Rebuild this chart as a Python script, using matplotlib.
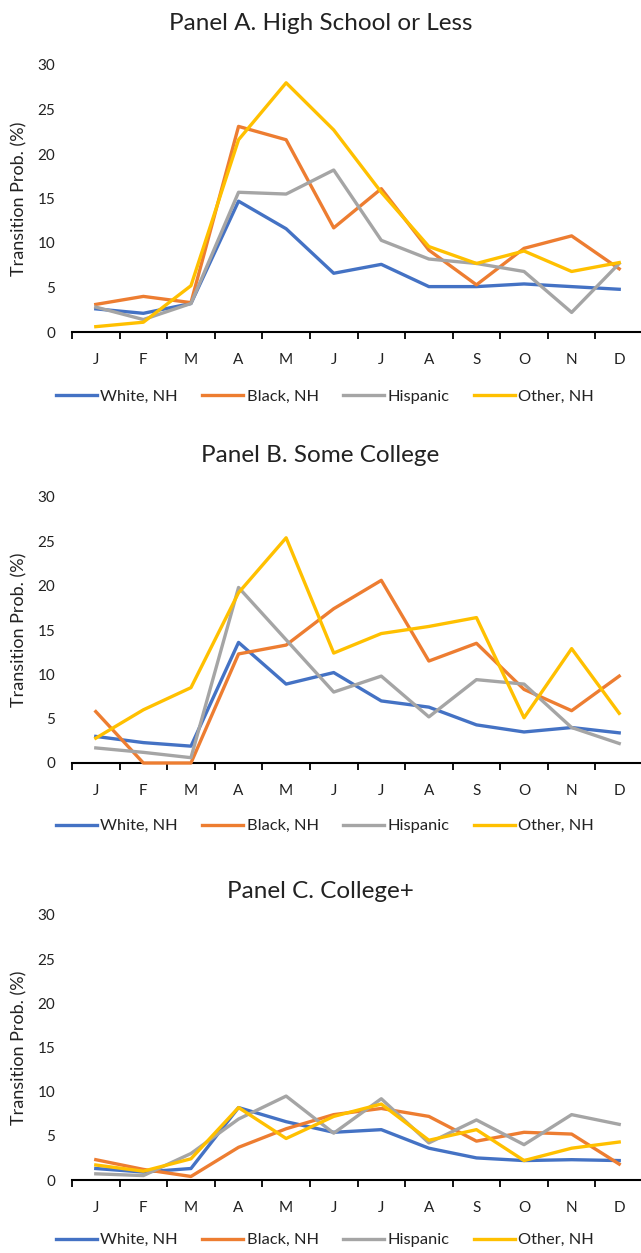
import numpy as np
import matplotlib
matplotlib.use("Agg")
import matplotlib.pyplot as plt

plt.rcParams['font.family'] = ['Lato', 'DejaVu Sans']

months = ["J", "F", "M", "A", "M", "J", "J", "A", "S", "O", "N", "D"]
series_names = ["White, NH", "Black, NH", "Hispanic", "Other, NH"]
colors = ["#4472C4", "#ED7D31", "#A5A5A5", "#FFC000"]

# Panel A. High School or Less
hs_white = [2.6, 2.1, 3.2, 14.7, 11.6, 6.6, 7.6, 5.1, 5.1, 5.4, 5.1, 4.8]
hs_black = [3.1, 4.0, 3.3, 23.1, 21.6, 11.7, 16.1, 9.2, 5.3, 9.4, 10.8, 7.1]
hs_hisp = [2.8, 1.4, 3.2, 15.7, 15.5, 18.2, 10.3, 8.2, 7.7, 6.8, 2.2, 7.7]
hs_other = [0.6, 1.1, 5.2, 21.6, 28.0, 22.7, 15.7, 9.6, 7.7, 9.1, 6.8, 7.8]

# Panel B. Some College
sc_white = [3.0, 2.3, 1.9, 13.6, 8.9, 10.2, 7.0, 6.3, 4.3, 3.5, 4.0, 3.4]
sc_black = [5.8, 0.0, 0.0, 12.3, 13.3, 17.4, 20.6, 11.5, 13.5, 8.3, 5.9, 9.8]
sc_hisp = [1.7, 1.2, 0.6, 19.8, 13.9, 8.0, 9.8, 5.2, 9.4, 8.9, 4.0, 2.2]
sc_other = [2.8, 6.0, 8.5, 19.2, 25.4, 12.4, 14.6, 15.4, 16.4, 5.1, 12.9, 5.6]

# Panel C. College+
co_white = [1.3, 0.9, 1.3, 8.2, 6.6, 5.4, 5.7, 3.6, 2.5, 2.2, 2.3, 2.2]
co_black = [2.3, 1.2, 0.4, 3.7, 5.8, 7.4, 8.1, 7.2, 4.4, 5.4, 5.2, 1.8]
co_hisp = [0.7, 0.5, 3.0, 6.9, 9.5, 5.3, 9.2, 4.2, 6.8, 4.0, 7.4, 6.3]
co_other = [1.7, 1.0, 2.4, 8.2, 4.7, 7.2, 8.6, 4.5, 5.7, 2.2, 3.6, 4.3]

panels = [
    ("Panel A. High School or Less", [hs_white, hs_black, hs_hisp, hs_other]),
    ("Panel B. Some College", [sc_white, sc_black, sc_hisp, sc_other]),
    ("Panel C. College+", [co_white, co_black, co_hisp, co_other]),
]

W, H = 641, 1253
fig = plt.figure(figsize=(W / 100, H / 100), dpi=100)

# pixel layout of each panel: (axis top, axis bottom, title y, legend y)
layout = [(65, 332, 23, 397), (497, 763, 455, 826), (915, 1180, 892, 1240)]
x_left, x_right = 72, 643

x = np.arange(len(months))
for (title, data), (top, bottom, ty, ly) in zip(panels, layout):
    ax = fig.add_axes([x_left / W, 1 - bottom / H, (x_right - x_left) / W, (bottom - top) / H])
    for vals, name, c in zip(data, series_names, colors):
        ax.plot(x, vals, color=c, lw=2.4, label=name, clip_on=False, zorder=3)
    ax.set_xlim(-0.5, 11.5)
    ax.set_ylim(0, 30)
    ax.set_yticks([0, 5, 10, 15, 20, 25, 30])
    ax.tick_params(axis='y', length=0, pad=12, labelsize=11, colors='#222222')
    ax.set_xticks(np.arange(-0.5, 12, 1))
    ax.set_xticklabels([])
    ax.tick_params(axis='x', which='major', length=5, width=1.3, direction='out', color='black')
    ax.set_xticks(x, minor=True)
    ax.set_xticklabels(months, minor=True)
    ax.tick_params(axis='x', which='minor', length=0, pad=15, labelsize=11, labelcolor='#222222')
    for s in ['top', 'right', 'left']:
        ax.spines[s].set_visible(False)
    ax.spines['bottom'].set_linewidth(1.5)
    ax.set_ylabel("Transition Prob. (%)", fontsize=13, color='#222222')
    ax.yaxis.set_label_coords((27 - x_left) / (x_right - x_left), 0.5)
    fig.text(0.5, 1 - ty / H, title, ha='center', va='center', fontsize=17.5, color='#222222')
    handles, labels = ax.get_legend_handles_labels()
    fig.legend(handles, labels, loc='center', bbox_to_anchor=(325 / W, 1 - ly / H),
               ncol=4, frameon=False, fontsize=11.8, handlelength=2.5, handletextpad=0.2,
               columnspacing=1.5, labelcolor='#222222')

fig.savefig("out.png", dpi=100)
